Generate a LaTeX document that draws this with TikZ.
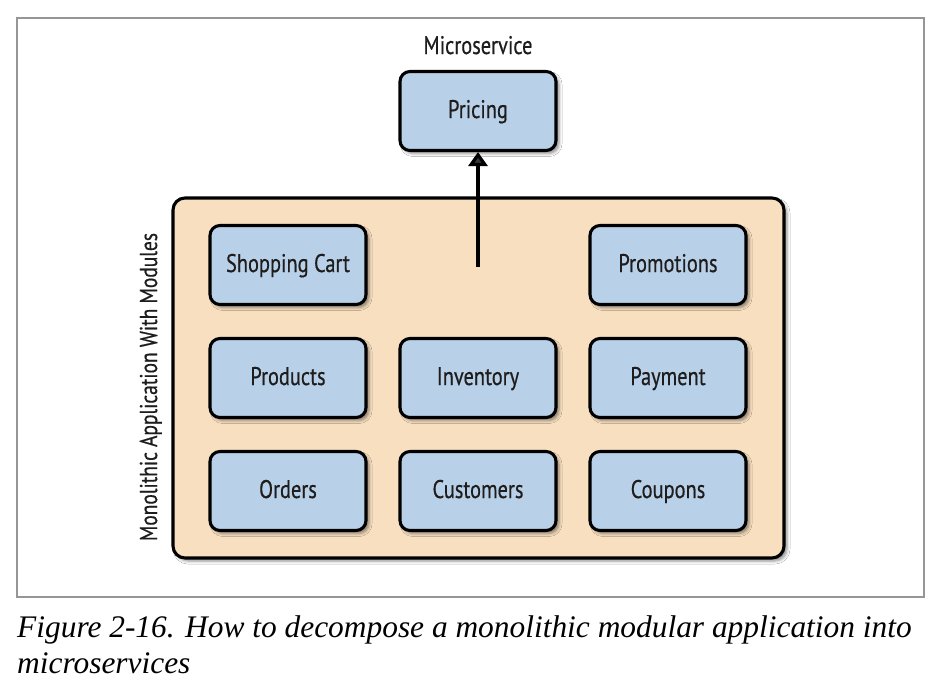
\documentclass[tikz,border=0pt]{standalone}
\usepackage{fontspec}
\usetikzlibrary{arrows.meta,shadows.blur}
\newfontfamily\labelfont{PT Sans}[FakeStretch=0.8,FakeBold=0.5]
\newfontfamily\capfont{Liberation Serif}
\definecolor{modblue}{RGB}{185,209,232}
\definecolor{monoorange}{RGB}{247,223,192}
\definecolor{framegray}{RGB}{150,150,150}
\definecolor{labeltext}{RGB}{30,28,28}
\tikzset{
  modbox/.style={draw=black, line width=3.1pt, fill=modblue, rounded corners=10pt,
    minimum width=156pt, minimum height=79pt, inner sep=0pt,
    font=\labelfont\fontsize{25.5}{28}\selectfont, text=labeltext,
    text height=20pt, text depth=6pt,
    blur shadow={shadow xshift=3pt, shadow yshift=-3pt, shadow blur radius=3pt, shadow opacity=45}},
  monobox/.style={draw=black, line width=3.1pt, fill=monoorange, rounded corners=12pt,
    blur shadow={shadow xshift=3pt, shadow yshift=-3pt, shadow blur radius=3pt, shadow opacity=45}},
  plainlabel/.style={font=\labelfont\fontsize{25.5}{28}\selectfont, text=labeltext, inner sep=0pt,
    text height=20pt, text depth=6pt},
  connector/.style={line width=3.2pt, -{Triangle[width=19pt,length=14pt]}}
}
\begin{document}
\begin{tikzpicture}[x=1pt,y=-1pt]
\useasboundingbox (0,0) rectangle (940,694);
\fill[white] (0,0) rectangle (940,694);
\draw[framegray, line width=1.5pt] (17,18) rectangle (924,597);
\draw[monobox] (173,198) rectangle (784,558);
\node[plainlabel, rotate=90, font=\labelfont\fontsize{24.3}{27}\selectfont] (monolabel) at (150,387) {Monolithic Application With Modules};
\node[plainlabel] (microlabel) at (478,47) {Microservice};
\node[modbox] (pricing) at (478,111) {Pricing};
\node[modbox] (cart) at (288,265) {Shopping Cart};
\node[modbox] (promotions) at (668,265) {Promotions};
\node[modbox] (products) at (288,378) {Products};
\node[modbox] (inventory) at (478,378) {Inventory};
\node[modbox] (payment) at (668,378) {Payment};
\node[modbox] (orders) at (288,491) {Orders};
\node[modbox] (customers) at (478,491) {Customers};
\node[modbox] (coupons) at (668,491) {Coupons};
\coordinate (arrowstart) at (478,267);
\draw[connector] (arrowstart) -- (pricing.south);
\node[anchor=north west, inner sep=0pt, align=left, font=\capfont\itshape\fontsize{31.4}{35.5}\selectfont] (caption) at (17,616)
  {Figure 2-16. How to decompose a monolithic modular application into\\microservices};
\end{tikzpicture}
\end{document}
